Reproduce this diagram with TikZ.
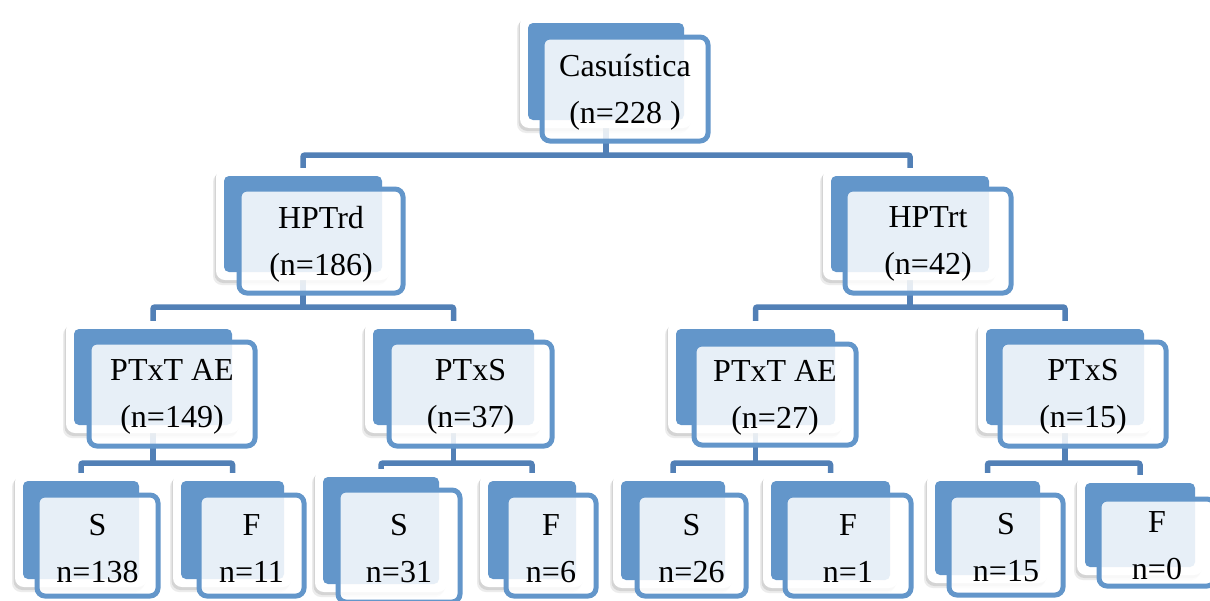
\documentclass[tikz,border=0pt]{standalone}
\usepackage{fontspec}
\setmainfont{Liberation Serif}
\usetikzlibrary{fit,shadows}
\pgfdeclarelayer{bg}
\pgfsetlayers{bg,main}
\definecolor{sablue}{RGB}{99,150,202}
\definecolor{conblue}{RGB}{82,128,182}
\tikzset{
 plate/.style={fill=white, rounded corners=9pt, inner sep=0pt, outer sep=0pt,
   drop shadow={shadow xshift=-3pt, shadow yshift=-5pt, opacity=0.15},
   drop shadow={shadow xshift=-1.5pt, shadow yshift=-3pt, opacity=0.22}},
 front/.style={draw=sablue, line width=5pt, fill=white, fill opacity=0.85,
   rounded corners=8pt, inner sep=0pt, outer sep=0pt},
 lbl/.style={align=center, inner sep=0pt, font=\fontsize{32}{47}\selectfont},
 conn/.style={draw=conblue, line width=5.5pt, rounded corners=2pt},
}
\newcommand\sabox[6]{%
 \node[plate, fit={#2 #3}] (#1) {};
 \fill[sablue, rounded corners=5pt] ([shift={(8,8)}]#1.north west) rectangle ([shift={(-8,-8)}]#1.south east);
 \node[front, fit={#4 #5}] (#1f) {};
 \node[lbl] (#1t) at ([yshift=-3pt]#1f.center) {#6};
}
\begin{document}
\begin{tikzpicture}[x=1pt,y=-1pt]
\useasboundingbox (0,0) rectangle (1210,600);
% level 0
\sabox{r}{(520,15)}{(692,128)}{(542,37)}{(708,141)}{Casuística\\(n=228 )}
% level 1
\sabox{hd}{(216,168)}{(390,280)}{(239,189)}{(403,293)}{HPTrd\\(n=186)}
\sabox{ht}{(823,168)}{(997,280)}{(845,189)}{(1011,293)}{HPTrt\\(n=42)}
% level 2
\sabox{al}{(66,321)}{(240,433)}{(89,342)}{(255,446)}{PTxT AE\\(n=149)}
\sabox{sl}{(365,321)}{(542,433)}{(389,342)}{(552,446)}{PTxS\\(n=37)}
\sabox{ar}{(668,321)}{(843,433)}{(694,344)}{(856,445)}{PTxT AE\\(n=27)}
\sabox{sr}{(978,321)}{(1152,433)}{(1000,342)}{(1166,446)}{PTxS\\(n=15)}
% level 3
\sabox{a1}{(15,473)}{(147,587)}{(37,495)}{(158,596)}{S\\n=138}
\sabox{a2}{(173,473)}{(292,587)}{(199,495)}{(304,596)}{F\\n=11}
\sabox{a3}{(315,469)}{(447,592)}{(338,490)}{(460,602)}{S\\n=31}
\sabox{a4}{(480,473)}{(584,587)}{(506,495)}{(596,596)}{F\\n=6}
\sabox{a5}{(613,473)}{(733,588)}{(637,495)}{(746,596)}{S\\n=26}
\sabox{a6}{(763,473)}{(898,588)}{(785,495)}{(911,596)}{F\\n=1}
\sabox{a7}{(927,473)}{(1048,583)}{(949,495)}{(1063,595)}{S\\n=15}
\sabox{a8}{(1077,475)}{(1203,575)}{(1099,499)}{(1215,586)}{F\\n=0}
% bar levels
\coordinate (b0) at (0,155);
\coordinate (b1) at (0,307);
\coordinate (b2) at (0,463);
\begin{pgfonlayer}{bg}
\fill[white] (0,0) rectangle (1210,600);
\draw[conn] (r.south) -- (b0 -| r.south);
\draw[conn] (hd.north) |- (b0 -| r.south) -| (ht.north);
\draw[conn] (hd.south) -- (b1 -| hd.south);
\draw[conn] (al.north) |- (b1 -| hd.south) -| (sl.north);
\draw[conn] (ht.south) -- (b1 -| ht.south);
\draw[conn] (ar.north) |- (b1 -| ht.south) -| (sr.north);
\draw[conn] (al.south) -- (b2 -| al.south);
\draw[conn] (a1.north) |- (b2 -| al.south) -| (a2.north);
\draw[conn] (sl.south) -- (b2 -| sl.south);
\draw[conn] (a3.north) |- (b2 -| sl.south) -| (a4.north);
\draw[conn] (ar.south) -- (b2 -| ar.south);
\draw[conn] (a5.north) |- (b2 -| ar.south) -| (a6.north);
\draw[conn] (sr.south) -- (b2 -| sr.south);
\draw[conn] (a7.north) |- (b2 -| sr.south) -| (a8.north);
\end{pgfonlayer}
\end{tikzpicture}
\end{document}
